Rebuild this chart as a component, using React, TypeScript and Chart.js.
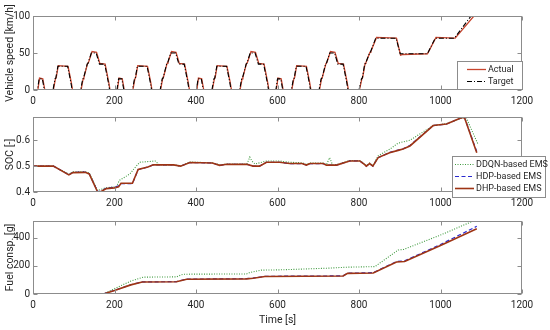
import React, { useEffect, useRef } from "react";
import { Chart, registerables } from "chart.js";
Chart.register(...registerables);

const FONT = 'Roboto, "Open Sans", Arial, sans-serif';
const TXT = "#262626";

// ---------- Speed (km/h) ----------
const speedTargetT = [0,11,15,23,28,49,54,56,61,85,93,96,117,122,124,133,135,143,155,163,176,185,188,
  206,210,218,223,244,249,251,256,280,288,291,312,317,319,328,330,338,350,358,371,380,383,
  401,405,413,418,439,444,446,451,475,483,486,507,512,514,523,525,533,545,553,566,575,578,
  596,600,608,613,634,639,641,646,670,678,681,702,707,709,718,720,728,740,748,761,770,773,
  800,806,808,814,816,826,828,841,891,901,968,987,1034,1075,1090];
const speedTargetV = [0,0,15,15,0,0,15,16,32,32,10,0,0,15,16,35,36,50,50,35,35,10,0,
  0,15,15,0,0,15,16,32,32,10,0,0,15,16,35,36,50,50,35,35,10,0,
  0,15,15,0,0,15,16,32,32,10,0,0,15,16,35,36,50,50,35,35,10,0,
  0,15,15,0,0,15,16,32,32,10,0,0,15,16,35,36,50,50,35,35,10,0,
  0,15,16,35,36,50,51,70,70,49,49,70,70,100,100];
const speedActualT = [0,12,16,24,29,50,55,57,62,86,94,97,118,123,125,134,136,145,156,164,177,186,189,
  207,211,219,224,245,250,252,257,281,289,292,313,318,320,329,331,340,351,359,372,381,384,
  402,406,414,419,440,445,447,452,476,484,487,508,513,515,524,526,535,546,554,567,576,579,
  597,601,609,614,635,640,642,647,671,679,682,703,708,710,719,721,730,741,749,762,771,774,
  801,807,809,815,817,827,829,843,892,902,908,968,989,1036,1082,1090];
const speedActualV = [0,0,16,15,0,0,15,17,33,32,10,0,0,15,17,36,37,52,51,36,35,10,0,
  0,16,15,0,0,15,17,33,32,10,0,0,15,17,36,37,52,51,36,35,10,0,
  0,16,15,0,0,15,17,33,32,10,0,0,15,17,36,37,52,51,36,35,10,0,
  0,16,15,0,0,15,17,33,32,10,0,0,15,17,36,37,52,51,36,35,10,0,
  0,15,17,36,37,51,52,71,70,47,48,49,71,70,100,100];

// ---------- SOC (-) ----------
const socT = [0,50,88,98,128,138,158,165,180,200,210,216,244,258,282,295,345,362,385,440,458,475,525,540,556,573,605,630,660,671,680,712,720,745,777,802,814,818,826,834,847,875,896,908,925,982,1015,1051,1059,1089];
const socDHP = [0.5,0.5,0.466,0.475,0.476,0.47,0.402,0.4,0.413,0.416,0.42,0.434,0.434,0.487,0.497,0.505,0.505,0.5,0.514,0.512,0.503,0.507,0.507,0.5,0.5,0.515,0.515,0.51,0.51,0.504,0.51,0.51,0.504,0.504,0.52,0.52,0.506,0.5,0.51,0.5,0.533,0.552,0.561,0.566,0.578,0.657,0.663,0.687,0.687,0.552];
const socHDP = [0.5,0.5,0.467,0.476,0.477,0.471,0.404,0.402,0.415,0.419,0.424,0.432,0.432,0.486,0.497,0.505,0.505,0.5,0.514,0.512,0.503,0.507,0.507,0.5,0.5,0.515,0.515,0.51,0.51,0.504,0.51,0.51,0.504,0.504,0.52,0.52,0.506,0.5,0.51,0.5,0.533,0.553,0.562,0.567,0.58,0.657,0.663,0.687,0.688,0.556];
const socDDQNT = [0,50,88,98,128,138,158,178,205,212,238,248,262,300,310,345,362,385,440,458,475,525,532,537,545,573,605,630,660,671,680,712,720,728,735,745,777,802,814,818,826,834,847,875,896,925,982,1015,1051,1063,1092];
const socDDQN = [0.5,0.5,0.469,0.478,0.479,0.474,0.406,0.416,0.421,0.445,0.47,0.49,0.515,0.52,0.505,0.505,0.5,0.516,0.513,0.505,0.508,0.508,0.535,0.52,0.508,0.52,0.52,0.515,0.513,0.507,0.512,0.512,0.505,0.533,0.505,0.506,0.522,0.522,0.508,0.502,0.512,0.503,0.54,0.565,0.589,0.6,0.657,0.665,0.685,0.687,0.585];

// ---------- Fuel (g) ----------
const fuelT = [0,173,200,240,268,352,377,524,540,569,761,772,835,892,912,1000,1089];
const fuelDHP = [0,0,25,65,85,87,105,108,112,125,128,147,150,228,232,345,465];
const fuelHDP = [0,0,26,66,86,88,106,109,113,126,129,148,152,232,236,353,482];
const fuelDDQNT = [0,173,200,240,271,352,368,524,532,560,606,724,770,839,896,910,1000,1082];
const fuelDDQN = [0,0,38,92,120,122,141,143,153,170,172,184,191,195,313,318,420,522];

const xTicks = [0, 200, 400, 600, 800, 1000, 1200];

function pts(t: number[], v: number[]) {
  return t.map((x, i) => ({ x, y: v[i] }));
}

const boxPlugin = {
  id: "matBox",
  afterDatasetsDraw(chart: any) {
    const { ctx, chartArea: a, scales } = chart;
    ctx.save();
    ctx.strokeStyle = "#8c8c8c";
    ctx.lineWidth = 1;
    const L = Math.round(a.left) + 0.5, T = Math.round(a.top) + 0.5;
    const R = Math.round(a.right) - 0.5, B = Math.round(a.bottom) - 0.5;
    ctx.strokeRect(L, T, R - L, B - T);
    const tl = 4;
    ctx.beginPath();
    scales.x.ticks.forEach((t: any) => {
      const px = Math.round(scales.x.getPixelForValue(t.value)) + 0.5;
      ctx.moveTo(px, B); ctx.lineTo(px, B - tl);
      ctx.moveTo(px, T); ctx.lineTo(px, T + tl);
    });
    scales.y.ticks.forEach((t: any) => {
      const py = Math.round(scales.y.getPixelForValue(t.value)) + 0.5;
      ctx.moveTo(L, py); ctx.lineTo(L + tl, py);
      ctx.moveTo(R, py); ctx.lineTo(R - tl, py);
    });
    ctx.stroke();
    ctx.restore();
  },
};

const legendPlugin = {
  id: "matLegend",
  afterDraw(chart: any, _args: any, opts: any) {
    if (!opts || !opts.order) return;
    const { ctx } = chart;
    const { x, y, w, h, first, rowH, l0, l1, tx } = opts;
    ctx.save();
    ctx.fillStyle = "#fff";
    ctx.fillRect(x, y, w, h);
    ctx.strokeStyle = "#8c8c8c";
    ctx.lineWidth = 1;
    ctx.strokeRect(x + 0.5, y + 0.5, w - 1, h - 1);
    opts.order.forEach((di: number, i: number) => {
      const ds = chart.data.datasets[di];
      const cy = y + first + i * rowH + 0.5;
      ctx.beginPath();
      ctx.setLineDash(ds.borderDash || []);
      ctx.strokeStyle = ds.borderColor;
      ctx.lineWidth = ds.borderWidth;
      ctx.moveTo(x + l0, cy);
      ctx.lineTo(x + l1, cy);
      ctx.stroke();
      ctx.setLineDash([]);
      ctx.fillStyle = TXT;
      ctx.font = `9px ${FONT}`;
      ctx.textBaseline = "middle";
      ctx.textAlign = "left";
      ctx.fillText(ds.label, x + tx, cy);
    });
    ctx.restore();
  },
};

function xAxis(height: number, title?: string) {
  return {
    type: "linear",
    min: 0,
    max: 1200,
    afterBuildTicks: (s: any) => { s.ticks = xTicks.map((v) => ({ value: v })); },
    ticks: {
      font: { family: FONT, size: 10 }, color: TXT, padding: 5, maxRotation: 0, autoSkip: false,
      callback: (v: any) => String(v),
    },
    grid: { display: false, drawTicks: false },
    border: { display: false },
    title: title
      ? { display: true, text: title, font: { family: FONT, size: 10.5 }, color: TXT, padding: { top: 0, bottom: 3 } }
      : { display: false },
    afterFit: (s: any) => { s.height = height; },
  };
}

function yAxis(min: number, max: number, ticks: number[], title: string, fmt?: (v: number) => string) {
  return {
    type: "linear",
    min,
    max,
    afterBuildTicks: (s: any) => { s.ticks = ticks.map((v) => ({ value: v })); },
    ticks: {
      font: { family: FONT, size: 10 },
      color: TXT,
      padding: 3,
      callback: fmt ? (v: any) => fmt(Number(v)) : (v: any) => String(v),
    },
    grid: { display: false, drawTicks: false },
    border: { display: false },
    title: { display: true, text: title, font: { family: FONT, size: 10.5 }, color: TXT, padding: { top: 4, bottom: 0 } },
    afterFit: (s: any) => { s.width = 33; },
  };
}

function baseOptions(padTop: number, x: any, y: any, legend?: any) {
  return {
    responsive: false,
    animation: false,
    devicePixelRatio: 1,
    layout: { padding: { top: padTop, right: 28, left: 0, bottom: 0 } },
    elements: { point: { radius: 0 }, line: { tension: 0 } },
    plugins: { legend: { display: false }, tooltip: { enabled: false }, matLegend: legend || {} },
    scales: { x, y },
  };
}

const line = (label: string, data: any[], color: string, width: number, dash: number[], order: number) => ({
  label, data, borderColor: color, borderWidth: width, borderDash: dash, fill: false, pointRadius: 0, order,
});

export default function App() {
  const r1 = useRef<HTMLCanvasElement>(null);
  const r2 = useRef<HTMLCanvasElement>(null);
  const r3 = useRef<HTMLCanvasElement>(null);

  useEffect(() => {
    const c1 = new Chart(r1.current as any, {
      type: "line",
      data: {
        datasets: [
          line("Actual", pts(speedActualT, speedActualV), "#c8452e", 1.3, [], 1),
          line("Target", pts(speedTargetT, speedTargetV), "#000000", 1.1, [5, 2, 1, 2], 0),
        ],
      },
      options: baseOptions(16, xAxis(22), yAxis(0, 100, [0, 50, 100], "Vehicle speed [km/h]"), {
        order: [0, 1], x: 457, y: 61, w: 66, h: 29, first: 8, rowH: 12, l0: 10, l1: 29, tx: 31,
      }),
      plugins: [boxPlugin, legendPlugin],
    } as any);

    const c2 = new Chart(r2.current as any, {
      type: "line",
      data: {
        datasets: [
          line("DDQN-based EMS", pts(socDDQNT, socDDQN), "#3f9a3f", 1.1, [1, 1.5], 2),
          line("HDP-based EMS", pts(socT, socHDP), "#2a2ad0", 1.2, [4, 2.5], 1),
          line("DHP-based EMS", pts(socT, socDHP), "#9e3414", 1.6, [], 0),
        ],
      },
      options: baseOptions(9, xAxis(20), yAxis(0.4, 0.69, [0.4, 0.5, 0.6], "SOC [-]", (v) => v.toFixed(1)), {
        order: [0, 1, 2], x: 452, y: 48, w: 94, h: 42, first: 8, rowH: 12, l0: 3, l1: 22, tx: 24,
      }),
      plugins: [boxPlugin, legendPlugin],
    } as any);

    const c3 = new Chart(r3.current as any, {
      type: "line",
      data: {
        datasets: [
          line("DDQN-based EMS", pts(fuelDDQNT, fuelDDQN), "#3f9a3f", 1.1, [1, 1.5], 2),
          line("HDP-based EMS", pts(fuelT, fuelHDP), "#2a2ad0", 1.2, [4, 2.5], 1),
          line("DHP-based EMS", pts(fuelT, fuelDHP), "#9e3414", 1.6, [], 0),
        ],
      },
      options: baseOptions(9, xAxis(36, "Time [s]"), yAxis(0, 520, [0, 200, 400], "Fuel consp. [g]")),
      plugins: [boxPlugin],
    } as any);

    return () => { c1.destroy(); c2.destroy(); c3.destroy(); };
  }, []);

  return (
    <div style={{ position: "fixed", left: 0, top: 0, width: 550, height: 330, background: "#fff" }}>
      <canvas ref={r1} width={550} height={112} style={{ position: "absolute", left: 0, top: 0 }} />
      <canvas ref={r2} width={550} height={104} style={{ position: "absolute", left: 0, top: 108 }} />
      <canvas ref={r3} width={550} height={118} style={{ position: "absolute", left: 0, top: 212 }} />
    </div>
  );
}
